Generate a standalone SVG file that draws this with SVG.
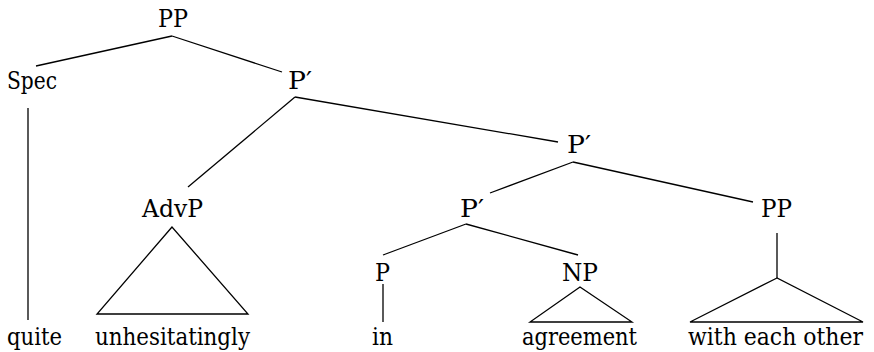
<svg xmlns="http://www.w3.org/2000/svg" width="874" height="352" viewBox="0 0 874 352">
<style>
text{font-family:'DejaVu Serif',serif;font-size:24px;fill:#000}
.e line,.e polygon{stroke:#000;stroke-width:1.3;fill:none}
</style>
<rect width="874" height="352" fill="#fff"/>
<g class="e" id="connectors">
<line x1="172" y1="36" x2="36" y2="66"/>
<line x1="172" y1="36" x2="282" y2="72"/>
<line x1="28" y1="108" x2="28" y2="320"/>
<line x1="295" y1="97" x2="188" y2="187"/>
<line x1="295" y1="97" x2="558" y2="142"/>
<line x1="573" y1="162" x2="490" y2="193"/>
<line x1="573" y1="162" x2="753" y2="202"/>
<line x1="466" y1="224" x2="383" y2="255"/>
<line x1="466" y1="224" x2="578" y2="255"/>
<line x1="383" y1="284" x2="383" y2="322"/>
<line x1="777" y1="233" x2="777" y2="278"/>
<polygon points="172,227 97,314 248,314"/>
<polygon points="580,287 530,322 632,322"/>
<polygon points="777,278 690,322 863,322"/>
</g>
<g id="n-pp"><text x="158" y="27" textLength="30" lengthAdjust="spacingAndGlyphs">PP</text></g>
<g id="n-spec"><text x="7" y="89" textLength="50" lengthAdjust="spacingAndGlyphs">Spec</text></g>
<g id="n-pbar1"><text x="288" y="89" textLength="24" lengthAdjust="spacingAndGlyphs">P′</text></g>
<g id="n-pbar2"><text x="567" y="153" textLength="24" lengthAdjust="spacingAndGlyphs">P′</text></g>
<g id="n-advp"><text x="142" y="217" textLength="61" lengthAdjust="spacingAndGlyphs">AdvP</text></g>
<g id="n-pbar3"><text x="460" y="217" textLength="24" lengthAdjust="spacingAndGlyphs">P′</text></g>
<g id="n-pp2"><text x="761" y="217" textLength="31" lengthAdjust="spacingAndGlyphs">PP</text></g>
<g id="n-p"><text x="375" y="281" textLength="15" lengthAdjust="spacingAndGlyphs">P</text></g>
<g id="n-np"><text x="562" y="281" textLength="36" lengthAdjust="spacingAndGlyphs">NP</text></g>
<g id="n-quite"><text x="7" y="345" textLength="55" lengthAdjust="spacingAndGlyphs">quite</text></g>
<g id="n-unhes"><text x="95" y="345" textLength="155" lengthAdjust="spacingAndGlyphs">unhesitatingly</text></g>
<g id="n-in"><text x="372" y="345" textLength="21" lengthAdjust="spacingAndGlyphs">in</text></g>
<g id="n-agree"><text x="522" y="345" textLength="115" lengthAdjust="spacingAndGlyphs">agreement</text></g>
<g id="n-with"><text x="863" y="345" text-anchor="end" textLength="175" lengthAdjust="spacingAndGlyphs">with each other</text></g>
</svg>
